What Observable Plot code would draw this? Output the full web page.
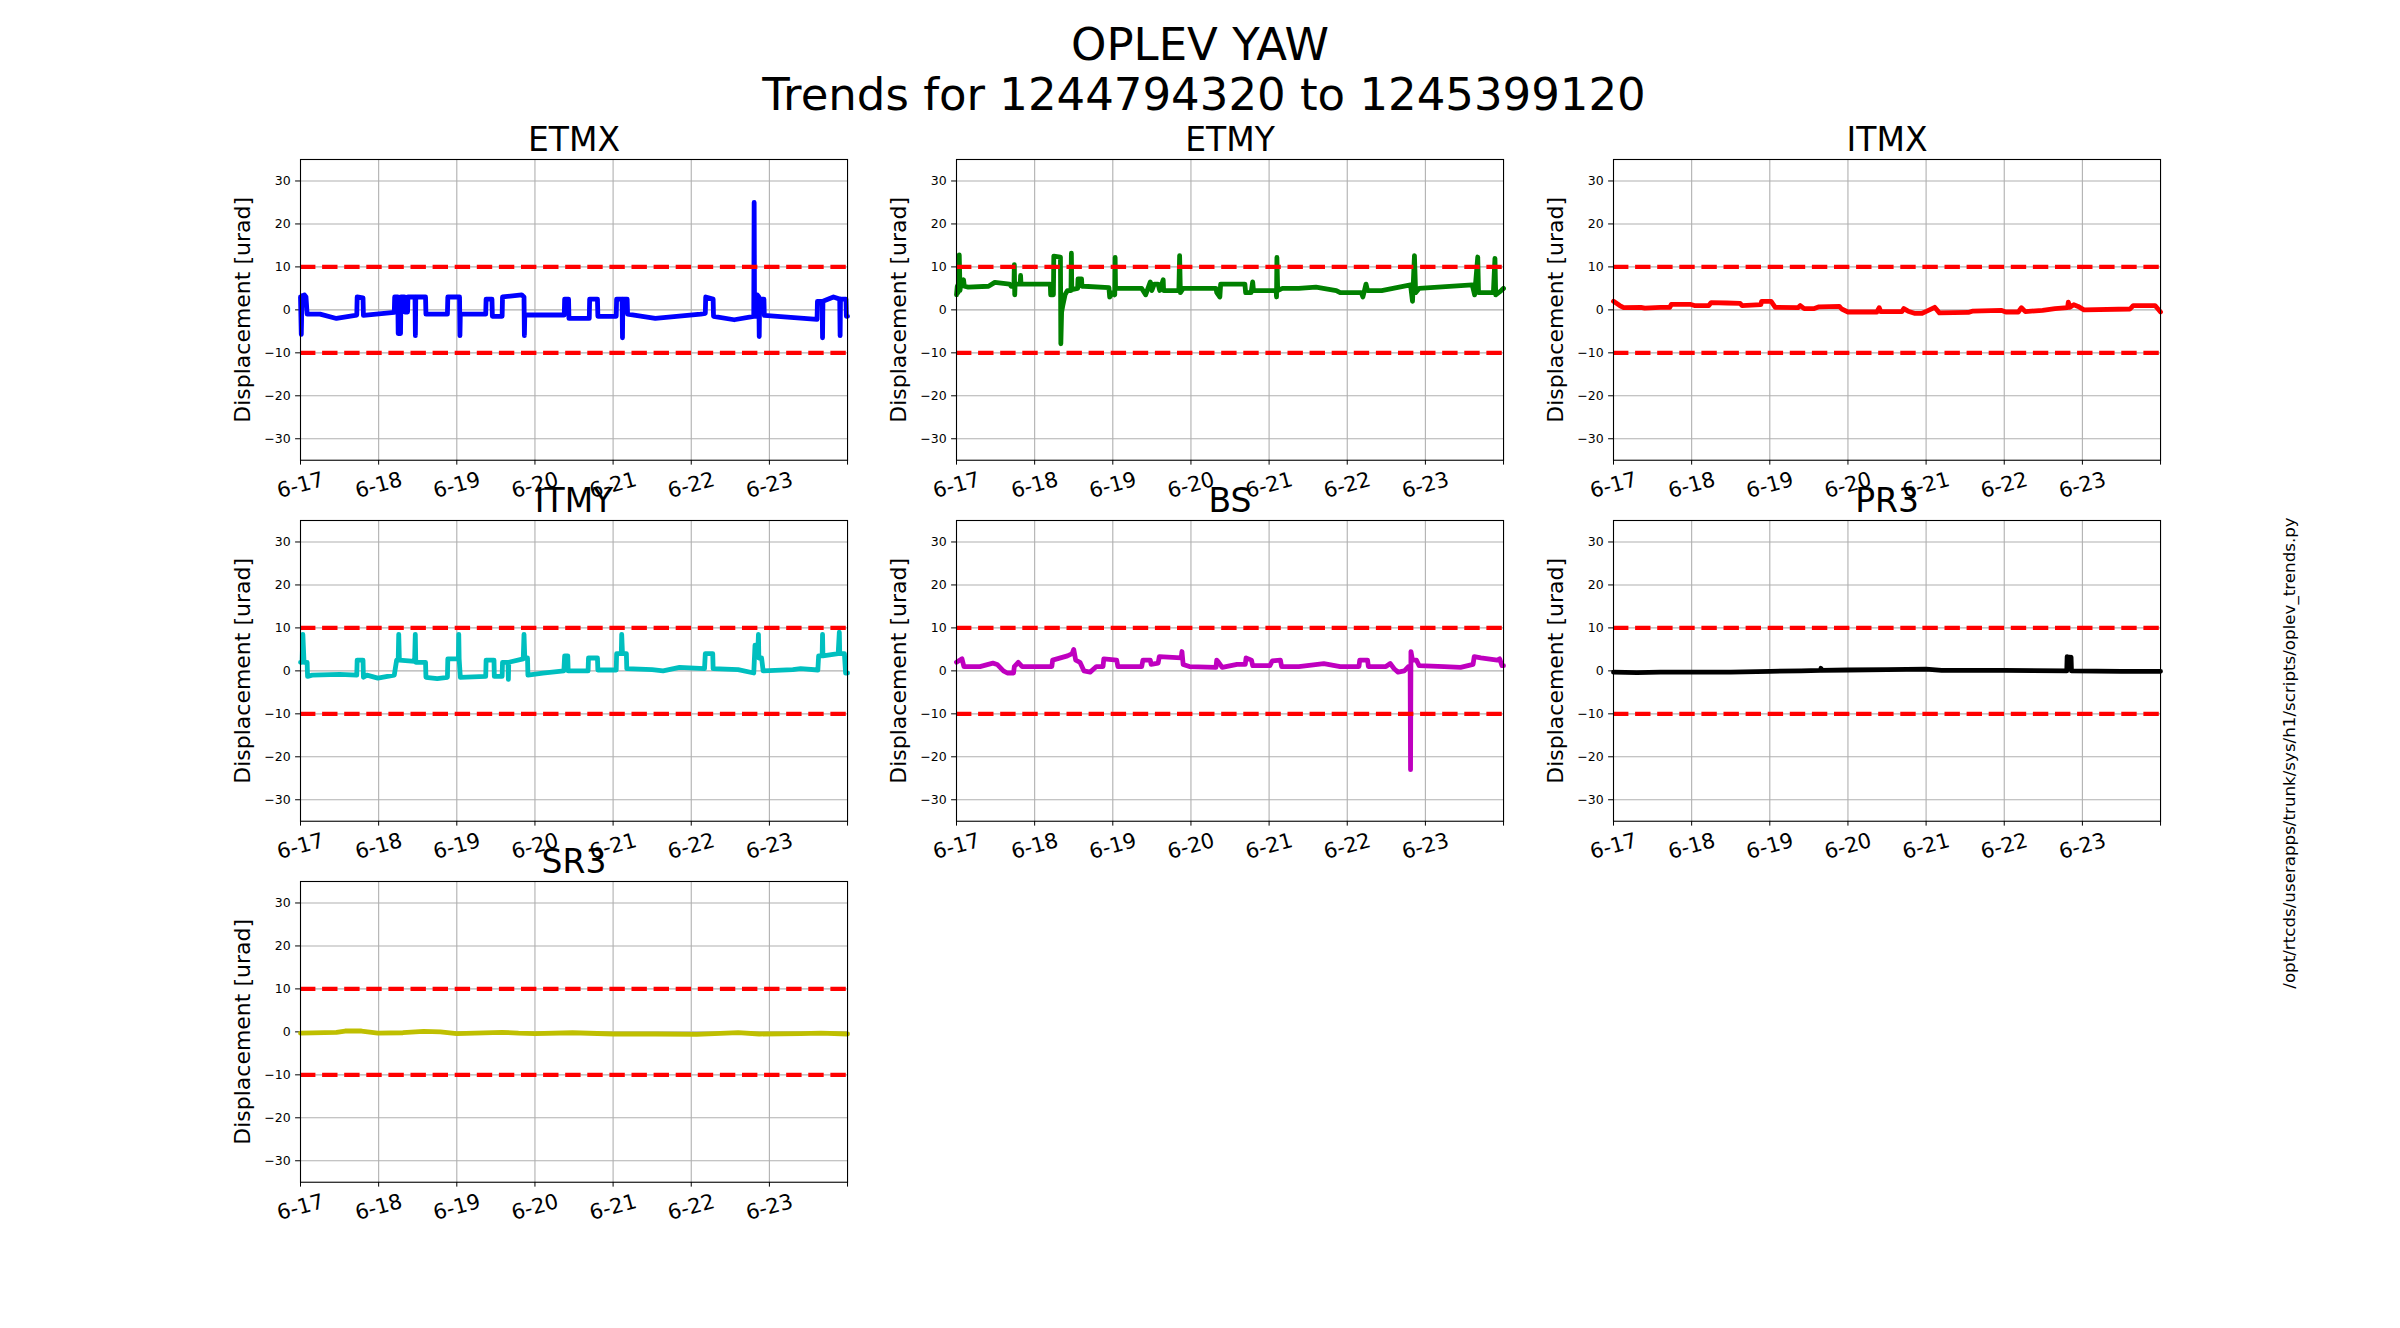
<!DOCTYPE html>
<html><head><meta charset="utf-8">
<script src="https://cdn.jsdelivr.net/npm/d3@7"></script>
<script src="https://cdn.jsdelivr.net/npm/@observablehq/plot@0.6"></script>
<style>
body{margin:0;background:#fff;}
#fig{position:relative;width:2400px;height:1328px;background:#fff;overflow:hidden;font-family:"DejaVu Sans",sans-serif;}
.panel{position:absolute;}
#overlay{position:absolute;left:0;top:0;pointer-events:none;}
</style></head><body><div id="fig"></div>
<script>
// ---------- data ----------
const suptitle = ["OPLEV YAW", "Trends for 1244794320 to 1245399120"];
const scriptPath = "/opt/rtcds/userapps/trunk/sys/h1/scripts/oplev_trends.py";
const yLabel = "Displacement [urad]";
const optics = ["ETMX","ETMY","ITMX","ITMY","BS","PR3","SR3"];
const colors = ["#0000ff","#008000","#ff0000","#00bfbf","#bf00bf","#000000","#bfbf00"];
const xTickDays = [0,1,2,3,4,5,6,7];          // days since 6-17 00:00
const xTickLabels = ["6-17","6-18","6-19","6-20","6-21","6-22","6-23"];
const xGridDays = [1,2,3,4,5,6];
const yTicks = [-30,-20,-10,0,10,20,30];
const thresholds = [10,-10];

// [day, urad]
const etmx = [[0.000,3.0],[0.010,-5.7],[0.020,3.3],[0.040,2.5],[0.050,3.5],[0.070,3.0],[0.085,-1.0],[0.25,-1.0],[0.46,-2.0],[0.72,-1.2],[0.725,3.0],[0.80,2.8],[0.805,-1.3],[1.20,-0.6],[1.205,3.0],[1.245,3.0],[1.25,-5.5],[1.28,-5.5],[1.285,3.0],[1.33,3.0],[1.335,-0.5],[1.37,-0.5],[1.375,3.0],[1.465,3.0],[1.47,-6.0],[1.475,3.0],[1.60,3.0],[1.605,-1.0],[1.88,-1.0],[1.885,3.0],[2.035,3.0],[2.04,-6.0],[2.045,-1.0],[2.37,-1.0],[2.375,2.5],[2.45,2.5],[2.455,-1.5],[2.58,-1.5],[2.585,3.0],[2.83,3.5],[2.86,3.0],[2.865,-6.0],[2.87,-1.2],[3.375,-1.2],[3.38,2.5],[3.43,2.5],[3.435,-2.0],[3.695,-2.0],[3.70,2.5],[3.80,2.5],[3.805,-1.5],[4.04,-1.5],[4.045,2.5],[4.115,2.5],[4.12,-6.5],[4.125,2.5],[4.18,2.5],[4.185,-1.0],[4.54,-2.0],[5.12,-1.0],[5.18,-0.8],[5.185,3.0],[5.28,2.5],[5.285,-1.5],[5.55,-2.3],[5.80,-1.5],[5.805,25.0],[5.81,-1.5],[5.84,-1.5],[5.845,3.5],[5.865,3.0],[5.87,-6.2],[5.875,2.5],[5.93,2.5],[5.935,-1.3],[6.61,-2.2],[6.615,2.0],[6.675,2.0],[6.68,-6.5],[6.685,2.0],[6.82,3.0],[6.90,2.5],[6.905,-6.0],[6.91,2.5],[6.98,2.5],[6.985,-1.5],[7.0,-1.5]];
const etmy = [[0,3.5],[0.01,5.5],[0.02,4.0],[0.035,12.8],[0.045,4.5],[0.06,7.0],[0.07,5.5],[0.09,7.0],[0.10,5.5],[0.15,5.3],[0.41,5.5],[0.49,6.4],[0.68,6.0],[0.70,5.5],[0.735,5.5],[0.74,10.5],[0.745,3.5],[0.75,6.0],[0.815,6.0],[0.82,8.0],[0.825,6.0],[1.20,6.0],[1.205,3.5],[1.24,3.5],[1.245,12.5],[1.33,12.3],[1.335,-7.9],[1.345,-0.5],[1.36,1.0],[1.39,3.6],[1.42,4.5],[1.465,4.5],[1.47,13.2],[1.475,4.7],[1.55,5.0],[1.555,7.2],[1.60,7.2],[1.605,5.5],[1.63,5.5],[1.95,5.2],[1.96,3.0],[2.0,4.0],[2.025,3.5],[2.03,12.2],[2.035,5.0],[2.37,5.0],[2.42,3.5],[2.48,6.5],[2.50,4.5],[2.53,6.0],[2.58,6.0],[2.60,4.5],[2.645,7.0],[2.65,4.5],[2.845,4.5],[2.855,12.6],[2.865,4.0],[2.90,5.0],[3.32,5.0],[3.33,4.0],[3.37,3.0],[3.38,6.0],[3.69,6.0],[3.70,4.0],[3.77,4.0],[3.79,6.5],[3.80,4.5],[4.09,4.5],[4.095,3.0],[4.10,12.2],[4.11,4.5],[4.17,5.0],[4.38,5.0],[4.60,5.3],[4.86,4.5],[4.91,4.0],[5.18,4.0],[5.20,3.0],[5.24,6.0],[5.26,4.5],[5.44,4.5],[5.81,5.8],[5.835,2.0],[5.86,12.6],[5.875,4.0],[5.92,5.0],[6.60,5.8],[6.63,3.5],[6.67,12.3],[6.68,4.0],[6.87,4.0],[6.89,12.0],[6.90,3.5],[6.97,4.5],[7.0,5.0]];
const itmx = [[0,2.0],[0.08,1.0],[0.13,0.5],[0.35,0.6],[0.40,0.4],[0.60,0.6],[0.72,0.6],[0.74,1.3],[0.98,1.3],[1.035,1.0],[1.22,1.0],[1.25,1.7],[1.45,1.6],[1.62,1.5],[1.645,1.0],[1.885,1.2],[1.895,2.0],[2.017,2.0],[2.07,0.6],[2.36,0.5],[2.39,1.0],[2.44,0.3],[2.57,0.3],[2.63,0.7],[2.89,0.8],[2.92,0.2],[3.0,-0.5],[3.37,-0.5],[3.40,0.5],[3.42,-0.4],[3.69,-0.4],[3.715,0.3],[3.77,-0.3],[3.85,-0.8],[3.95,-0.8],[4.01,-0.3],[4.11,0.6],[4.17,-0.7],[4.54,-0.6],[4.59,-0.3],[4.96,-0.1],[5.02,-0.5],[5.18,-0.5],[5.22,0.5],[5.27,-0.4],[5.49,-0.1],[5.65,0.3],[5.81,0.5],[5.82,1.8],[5.84,0.6],[5.89,1.2],[5.945,0.8],[6.02,0.0],[6.61,0.2],[6.65,1.0],[6.93,1.0],[7.0,-0.5]];
const itmy = [[0,2.0],[0.02,2.0],[0.03,8.5],[0.045,2.0],[0.085,2.0],[0.09,-1.3],[0.15,-1.0],[0.50,-0.8],[0.72,-1.0],[0.725,2.5],[0.80,2.5],[0.805,-1.5],[0.85,-1.0],[0.99,-1.7],[1.20,-1.0],[1.23,2.5],[1.25,2.5],[1.257,8.5],[1.265,2.5],[1.46,2.2],[1.469,8.5],[1.475,2.0],[1.60,2.0],[1.605,-1.5],[1.75,-1.8],[1.88,-1.5],[1.885,2.8],[2.02,2.8],[2.025,8.5],[2.03,2.8],[2.045,-1.5],[2.37,-1.3],[2.375,2.5],[2.476,2.5],[2.48,-1.3],[2.58,-1.3],[2.585,2.0],[2.655,2.0],[2.66,-2.0],[2.665,2.0],[2.85,2.8],[2.86,8.5],[2.87,3.0],[2.905,3.0],[2.91,-1.0],[3.10,-0.5],[3.37,0.0],[3.38,3.5],[3.42,3.5],[3.425,0.0],[3.68,0.0],[3.685,3.0],[3.80,3.0],[3.805,0.2],[4.04,0.2],[4.045,4.0],[4.105,4.0],[4.11,8.5],[4.12,4.0],[4.17,4.0],[4.175,0.5],[4.50,0.3],[4.64,0.0],[4.85,0.8],[5.17,0.5],[5.18,4.0],[5.275,4.0],[5.28,0.5],[5.60,0.3],[5.80,-0.5],[5.816,6.0],[5.855,6.0],[5.86,8.5],[5.865,3.0],[5.90,3.0],[5.92,0.0],[6.30,0.3],[6.40,0.5],[6.62,0.2],[6.63,3.5],[6.675,3.5],[6.68,8.5],[6.685,3.5],[6.88,4.0],[6.895,9.0],[6.90,4.0],[6.96,4.0],[6.975,-0.5],[7.0,-0.5]];
const bs = [[0,2.0],[0.07,2.8],[0.095,1.0],[0.30,1.0],[0.466,1.8],[0.52,1.5],[0.60,0.0],[0.65,-0.5],[0.73,-0.5],[0.74,1.0],[0.79,2.0],[0.84,1.0],[1.15,1.0],[1.22,1.0],[1.23,2.5],[1.42,3.5],[1.48,4.0],[1.50,5.0],[1.525,2.5],[1.58,2.0],[1.63,0.0],[1.71,-0.3],[1.79,1.0],[1.875,1.0],[1.885,2.8],[2.05,2.5],[2.065,1.0],[2.37,1.0],[2.385,2.5],[2.48,2.5],[2.49,1.5],[2.58,1.8],[2.595,3.3],[2.875,3.0],[2.885,4.5],[2.90,1.5],[2.98,1.0],[3.32,0.8],[3.33,2.5],[3.345,2.2],[3.40,0.8],[3.59,1.5],[3.695,1.5],[3.705,3.0],[3.775,2.5],[3.79,1.2],[4.01,1.2],[4.04,2.3],[4.145,2.5],[4.16,1.0],[4.38,1.0],[4.70,1.7],[4.91,1.0],[5.15,1.0],[5.16,2.5],[5.26,2.5],[5.27,1.0],[5.495,1.0],[5.55,1.7],[5.60,0.5],[5.65,-0.3],[5.73,0.0],[5.785,1.0],[5.805,0.5],[5.81,-23.0],[5.815,4.5],[5.835,2.5],[5.885,2.5],[5.92,1.2],[6.24,1.0],[6.45,0.8],[6.61,1.5],[6.625,3.3],[6.71,3.0],[6.92,2.5],[6.95,2.8],[6.98,1.2],[7.0,1.2]];
const pr3 = [[0,-0.3],[0.3,-0.4],[0.6,-0.3],[1.0,-0.3],[1.5,-0.3],[2.0,-0.1],[2.4,0.0],[2.65,0.1],[2.655,0.6],[2.66,0.1],[3.0,0.2],[3.5,0.3],[4.0,0.4],[4.2,0.1],[5.0,0.1],[5.80,0.0],[5.805,3.3],[5.82,2.5],[5.83,3.2],[5.84,2.5],[5.855,3.2],[5.86,0.0],[6.5,-0.1],[7.0,-0.1]];
const sr3 = [[0,-0.3],[0.46,-0.1],[0.57,0.2],[0.78,0.2],[0.99,-0.3],[1.31,-0.2],[1.575,0.1],[1.79,0.0],[2.0,-0.4],[2.58,-0.1],[2.79,-0.3],[3.0,-0.4],[3.48,-0.2],[4.01,-0.5],[4.54,-0.5],[5.07,-0.6],[5.60,-0.2],[5.87,-0.5],[6.40,-0.4],[6.66,-0.3],[7.0,-0.5]];
const seriesList = [etmx, etmy, itmx, itmy, bs, pr3, sr3];

// ---------- layout (matplotlib subplot defaults) ----------
const W = 2400, H = 1328;
const axW = (0.775 * W) / 3.4, axH = (0.77 * H) / 3.4;
const gapW = 0.2 * axW, gapH = 0.2 * axH;
const mL = 100, mR = 12, mT = 50, mB = 60;
const fig = document.getElementById("fig");

optics.forEach((name, i) => {
  const col = i % 3, row = Math.floor(i / 3);
  const left = 0.125 * W + col * (axW + gapW);
  const top = 0.12 * H + row * (axH + gapH);
  const chart = Plot.plot({
    width: axW + mL + mR,
    height: axH + mT + mB,
    marginLeft: mL, marginRight: mR, marginTop: mT, marginBottom: mB,
    style: {background: "transparent", overflow: "visible", fontFamily: "DejaVu Sans", fontSize: "12.5px", color: "black"},
    x: {domain: [0, 7], ticks: xTickDays, tickSize: 4.9, tickFormat: () => "", label: null},
    y: {domain: [-35, 35], ticks: yTicks, tickSize: 4.9, tickPadding: 5, label: null},
    marks: [
      Plot.ruleY(yTicks, {stroke: "#b0b0b0", strokeWidth: 1.1}),
      Plot.ruleX(xGridDays, {stroke: "#b0b0b0", strokeWidth: 1.1}),
      Plot.line(seriesList[i], {x: d => d[0], y: d => d[1], stroke: colors[i], strokeWidth: 4.8, strokeLinejoin: "round"}),
      Plot.ruleY(thresholds, {stroke: "#ff0000", strokeWidth: 4.2, strokeDasharray: "15.4,6.7"}),
      Plot.frame({stroke: "black", strokeWidth: 1.1}),
      Plot.text(xTickDays.slice(0, xTickLabels.length), {x: d => d, text: (d, j) => xTickLabels[j], frameAnchor: "bottom", dy: 25, rotate: -15, fontSize: 21, textAnchor: "middle", lineAnchor: "middle"}),
      Plot.text([yLabel], {text: d => d, frameAnchor: "left", dx: -58, rotate: -90, fontSize: 22, textAnchor: "middle", lineAnchor: "middle"}),
      Plot.text([name], {text: d => d, frameAnchor: "top", dy: -8.3, lineAnchor: "bottom", fontSize: 33})
    ]
  });
  const div = document.createElement("div");
  div.className = "panel";
  div.style.left = (left - mL) + "px";
  div.style.top = (top - mT) + "px";
  div.appendChild(chart);
  fig.appendChild(div);
});

// ---------- figure-level texts ----------
const ov = d3.select(fig).append("svg").attr("id", "overlay")
  .attr("width", W).attr("height", H)
  .style("font-family", "DejaVu Sans");
ov.append("text").attr("x", W / 2).attr("y", 60).attr("text-anchor", "middle")
  .attr("font-size", 45).text(suptitle[0]);
ov.append("text").attr("x", W / 2 + 4).attr("y", 110).attr("text-anchor", "middle")
  .attr("font-size", 45).text(suptitle[1]);
ov.append("text").attr("transform", "translate(2289,753) rotate(-90)")
  .attr("text-anchor", "middle").attr("dominant-baseline", "central")
  .attr("font-size", 16.7).text(scriptPath);
</script></body></html>
